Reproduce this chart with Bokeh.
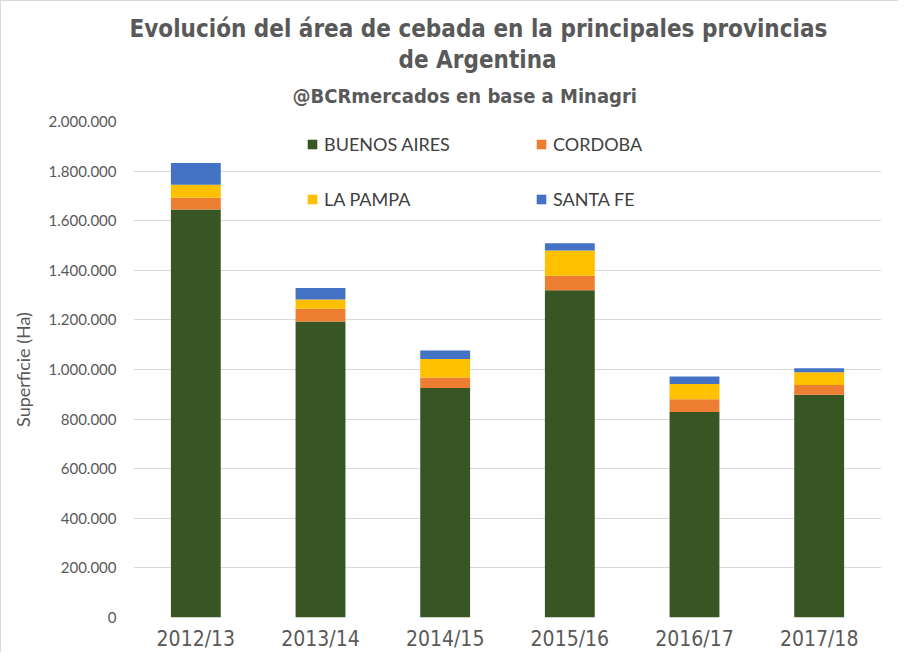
from bokeh.plotting import figure
from bokeh.models import Title, Legend, LegendItem, CustomJSTickFormatter, FixedTicker
from bokeh.embed import file_html
from bokeh.resources import INLINE

years = ["2012/13", "2013/14", "2014/15", "2015/16", "2016/17", "2017/18"]
buenos_aires = [1645000, 1194000, 925000, 1320000, 829000, 898000]
cordoba = [48000, 51000, 43000, 58000, 51000, 40000]
la_pampa = [52000, 37000, 74000, 102000, 62000, 51000]
santa_fe = [88000, 47000, 35000, 29000, 30000, 16000]
y_ticks = [0, 200000, 400000, 600000, 800000, 1000000, 1200000, 1400000, 1600000, 1800000, 2000000]

series = ["BUENOS AIRES", "CORDOBA", "LA PAMPA", "SANTA FE"]
colors = ["#375623", "#ED7D31", "#FFC000", "#4472C4"]

data = {"years": years, "BUENOS AIRES": buenos_aires, "CORDOBA": cordoba,
        "LA PAMPA": la_pampa, "SANTA FE": santa_fe}

TXT = "#595959"
COND = "DejaVu Sans Condensed"

p = figure(x_range=years, y_range=(0, 2000000), width=898, height=652,
           output_backend="svg", toolbar_location=None, title=None,
           min_border_left=132, min_border_right=18, min_border_bottom=35,
           min_border_top=120)

renderers = p.vbar_stack(series, x="years", width=0.4, color=colors, source=data,
                         line_color=None)

# titles (inner to outer)
p.add_layout(Title(text="@BCRmercados en base a Minagri", align="left", offset=159,
                   text_font=COND, text_font_size="20px",
                   text_font_style="bold", text_color=TXT, standoff=27), "above")
p.add_layout(Title(text="de Argentina", align="left", offset=265,
                   text_font=COND, text_font_size="24px",
                   text_font_style="bold", text_color=TXT, standoff=-10), "above")
p.add_layout(Title(text="Evolución del área de cebada en la principales provincias",
                   align="left", offset=-4,
                   text_font=COND, text_font_size="24px",
                   text_font_style="bold", text_color=TXT, standoff=12), "above")

p.xgrid.grid_line_color = None
p.ygrid.grid_line_color = "#D9D9D9"
p.ygrid.grid_line_width = 1
p.outline_line_color = None

p.yaxis.ticker = FixedTicker(ticks=y_ticks)
p.yaxis.formatter = CustomJSTickFormatter(code="""
return Math.round(tick).toString().replace(/\\B(?=(\\d{3})+(?!\\d))/g, '.');
""")
p.yaxis.axis_line_color = None
p.yaxis.major_tick_line_color = None
p.yaxis.minor_tick_line_color = None
p.yaxis.major_tick_out = 0
p.yaxis.major_tick_in = 0
p.yaxis.minor_tick_out = 0
p.yaxis.major_label_text_font = "Lato"
p.yaxis.major_label_text_font_size = "15px"
p.yaxis.major_label_text_color = TXT
p.yaxis.major_label_standoff = 17
p.yaxis.axis_label = "Superficie (Ha)"
p.yaxis.axis_label_text_font = "Lato"
p.yaxis.axis_label_text_font_style = "normal"
p.yaxis.axis_label_text_font_size = "18px"
p.yaxis.axis_label_text_color = TXT
p.yaxis.axis_label_standoff = 12

p.xaxis.axis_line_color = None
p.xaxis.major_tick_line_color = None
p.xaxis.minor_tick_line_color = None
p.xaxis.major_tick_out = 0
p.xaxis.major_tick_in = 0
p.xaxis.minor_tick_out = 0
p.xaxis.major_label_text_font = COND
p.xaxis.major_label_text_font_size = "21px"
p.xaxis.major_label_text_color = TXT
p.xaxis.major_label_standoff = 9

order = [0, 2, 1, 3]
items = [LegendItem(label=series[i], renderers=[renderers[i]]) for i in order]
legend = Legend(items=items, ncols=2, location=(173, 396),
                label_text_font="Lato", label_text_font_size="18px",
                label_text_color="#404040", glyph_width=12, glyph_height=12,
                label_standoff=6, label_width=200, label_height=44, spacing=11,
                padding=0, margin=0, border_line_color=None,
                background_fill_alpha=0)
p.add_layout(legend)

p.styles = {"border-left": "1px solid #D9D9D9", "border-top": "1px solid #D9D9D9"}

open("out.html", "w").write(file_html(p, INLINE))
